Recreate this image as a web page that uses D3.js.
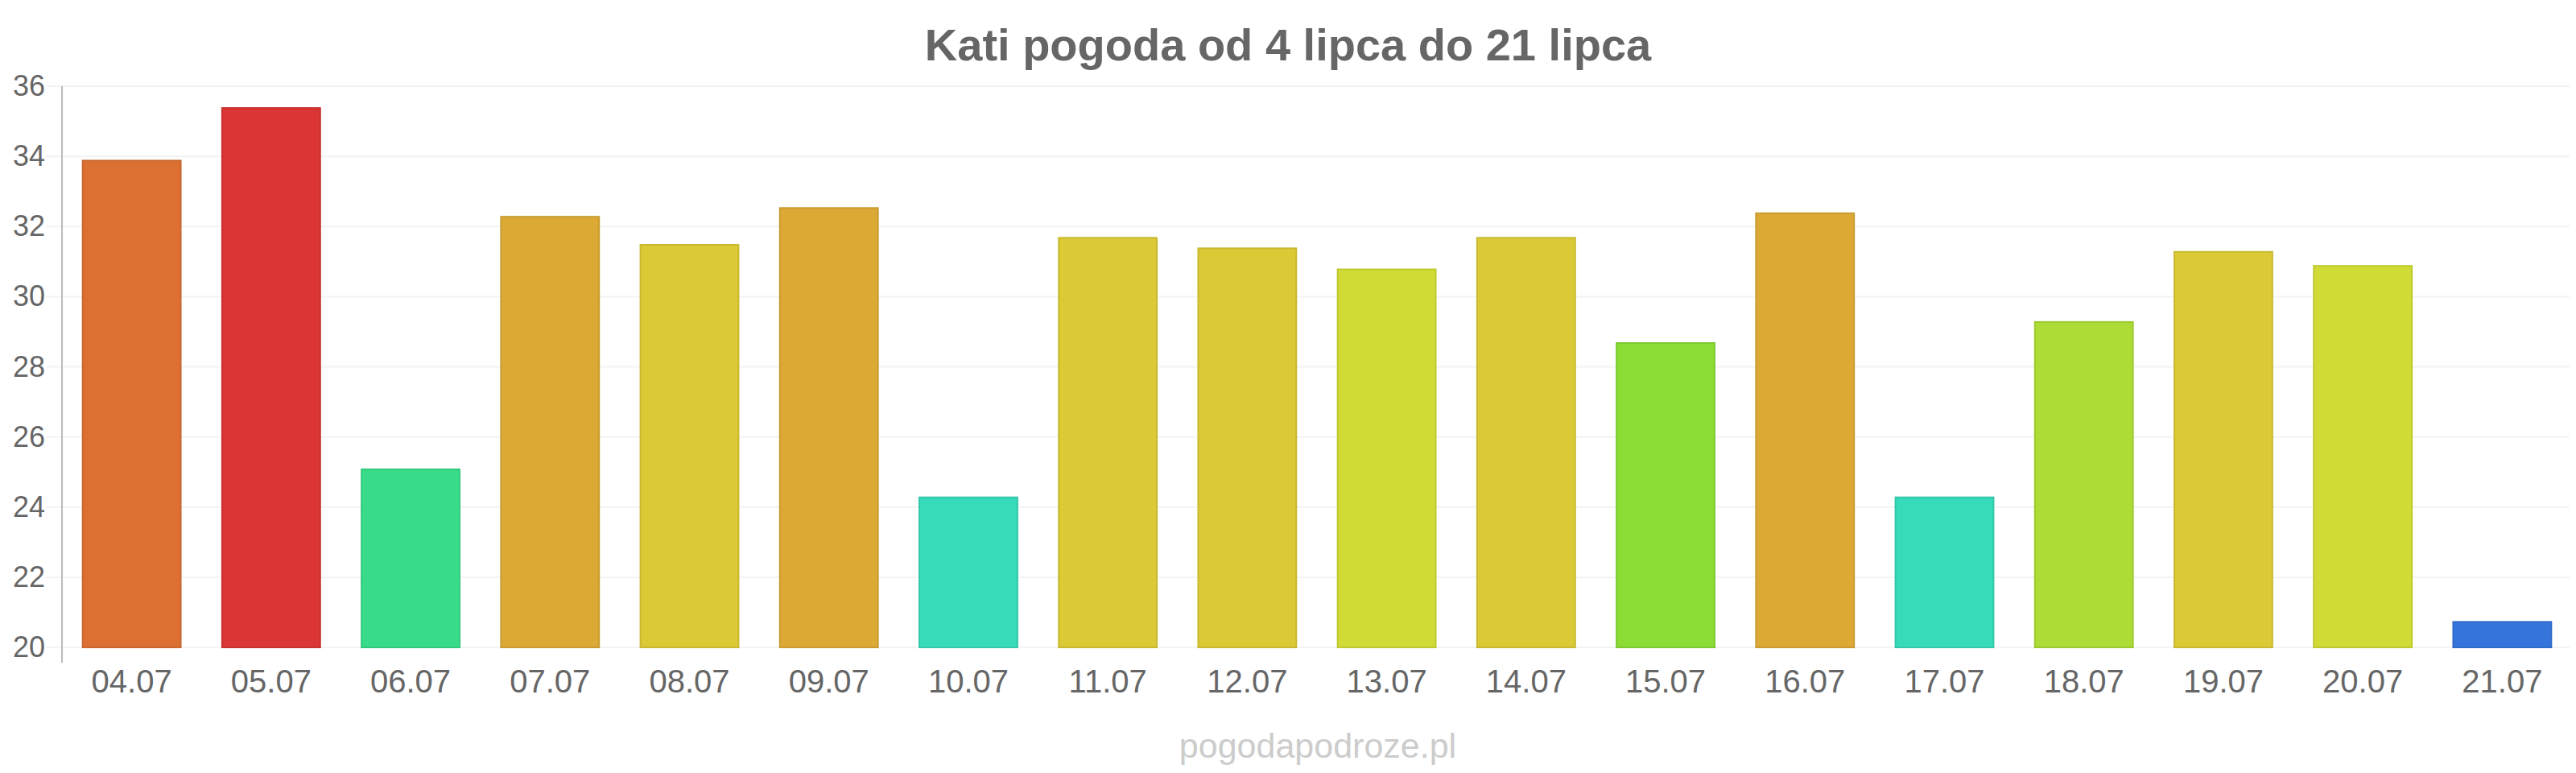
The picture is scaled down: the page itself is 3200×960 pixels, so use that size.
<!DOCTYPE html>
<head>
  <meta charset="utf-8">
  <script src="https://d3js.org/d3.v7.min.js"></script>
  <style>
    body {
        margin: 0;
        background: #fff;
    }
    .title {
        font-family: "Liberation Sans", Arial, sans-serif;
        font-size: 56px;
        font-weight: bold;
        fill: #666;
        text-anchor: middle;
    }
    .grid line {
        stroke: #f3f3f3;
        stroke-width: 2;
    }
    .axis text {
        font-family: "Liberation Sans", Arial, sans-serif;
        fill: #666;
    }
    .watermark {
        font-family: "Liberation Sans", Arial, sans-serif;
        font-size: 43px;
        fill: #ccc;
        text-anchor: middle;
    }
  </style>
</head>
<body>
<div id="chart"></div>

<script>
// data
var days = ['04.07', '05.07', '06.07', '07.07', '08.07', '09.07', '10.07', '11.07', '12.07',
            '13.07', '14.07', '15.07', '16.07', '17.07', '18.07', '19.07', '20.07', '21.07'];
var temps = [33.9, 35.4, 25.1, 32.3, 31.5, 32.55, 24.3, 31.7, 31.4,
             30.8, 31.7, 28.7, 32.4, 24.3, 29.3, 31.3, 30.9, 20.75];
var barColors = ['#dc7033', '#db3535', '#38dc88', '#dca935', '#dbca35', '#dca935', '#36dbb9', '#dbca35', '#dbca35',
                 '#d0dc35', '#dbca35', '#8bdc35', '#dca935', '#36dbb9', '#acdc35', '#dbca35', '#d0dc35', '#3575db'];
var yTicks = [20, 22, 24, 26, 28, 30, 32, 34, 36];

var width = 3200,
    height = 960,
    margin = {top: 107, right: 5, bottom: 156, left: 77};

var svg = d3.select("#chart").append("svg")
    .attr("width", width)
    .attr("height", height);

var x = d3.scaleBand()
    .domain(days)
    .range([margin.left, width - margin.right])
    .paddingInner(0.285)
    .paddingOuter(0.1425);

var y = d3.scaleLinear()
    .domain([20, 36])
    .range([height - margin.bottom, margin.top]);

// title
svg.append("text")
    .attr("class", "title")
    .attr("x", 1600)
    .attr("y", 75)
    .text("Kati pogoda od 4 lipca do 21 lipca");

// gridlines
svg.append("g")
    .attr("class", "grid")
  .selectAll("line")
    .data(yTicks)
  .enter().append("line")
    .attr("x1", margin.left - 20)
    .attr("x2", width - 8)
    .attr("y1", function(d) { return y(d); })
    .attr("y2", function(d) { return y(d); });

// bars
svg.append("g")
  .selectAll("rect")
    .data(temps)
  .enter().append("rect")
    .attr("x", function(d, i) { return x(days[i]) + 1; })
    .attr("width", x.bandwidth() - 2)
    .attr("y", function(d) { return y(d) + 1; })
    .attr("height", function(d) { return y(20) - y(d) - 1; })
    .style("fill", function(d, i) { return barColors[i]; })
    .style("stroke", function(d, i) { return d3.color(barColors[i]).darker(0.25); })
    .style("stroke-width", 2);

// y axis
var yAxis = svg.append("g")
    .attr("class", "axis")
    .attr("transform", "translate(" + margin.left + ",0)")
    .call(d3.axisLeft(y).tickValues(yTicks).tickSize(0).tickPadding(21));
yAxis.select(".domain").remove();
yAxis.selectAll("text").style("font-size", "36px");

svg.append("line")
    .attr("x1", margin.left)
    .attr("x2", margin.left)
    .attr("y1", y(36))
    .attr("y2", y(20) + 19)
    .style("stroke", "#bbb")
    .style("stroke-width", 2);

// x axis
var xAxis = svg.append("g")
    .attr("class", "axis")
    .attr("transform", "translate(0," + y(20) + ")")
    .call(d3.axisBottom(x).tickSize(0).tickPadding(28));
xAxis.select(".domain").remove();
xAxis.selectAll("text").style("font-size", "40px");

// watermark
svg.append("text")
    .attr("class", "watermark")
    .attr("x", 1637)
    .attr("y", 941)
    .text("pogodapodroze.pl");
</script>
</body>
